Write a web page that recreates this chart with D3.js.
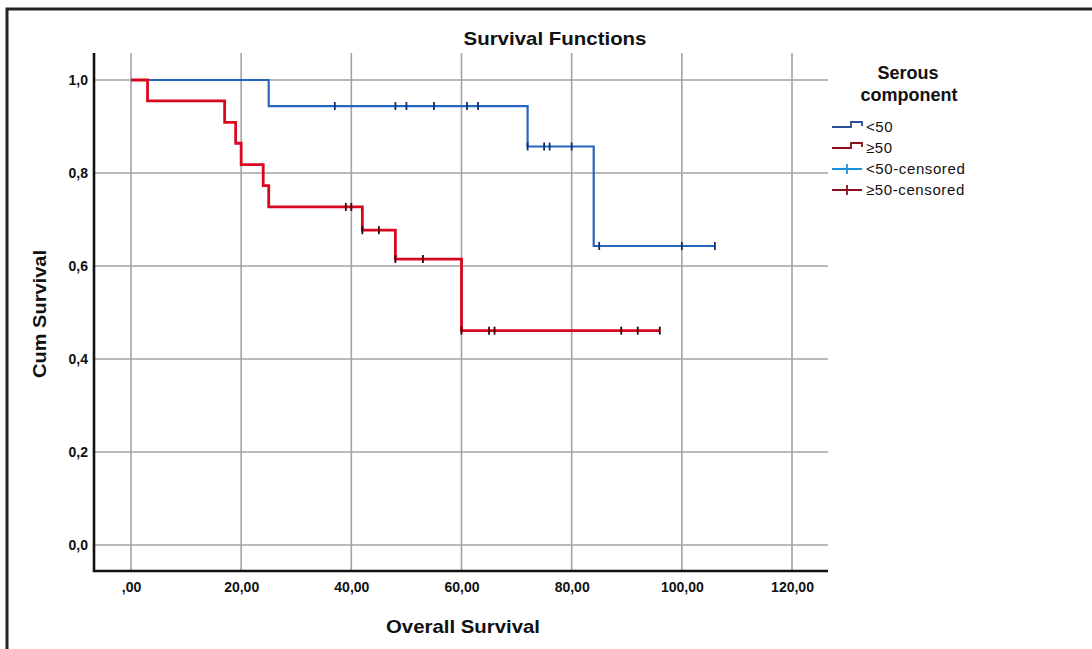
<!DOCTYPE html>
<html lang="en">
<head>
  <meta charset="UTF-8">
  <title>Survival Functions</title>
  <script src="https://d3js.org/d3.v7.min.js"></script>
  <style>
    body {
      margin: 0;
      padding: 0;
      background: #fff;
      font-family: "Liberation Sans", Arial, sans-serif;
    }
    svg text { fill: #111; }
  </style>
</head>
<body>
  <div id="chart"></div>

  <script>
    // Kaplan-Meier steps (time, cumulative survival)
    const lowTimes = [0, 25, 72, 84, 106];
    const lowSurv = [1.0, 0.944, 0.857, 0.643, 0.643];
    const lowCensored = [37, 48, 50, 55, 61, 63, 72, 75, 76, 80, 85, 100, 106];

    const highTimes = [0, 3, 17, 19, 20, 24, 25, 42, 48, 60, 96];
    const highSurv = [1.0, 0.955, 0.909, 0.864, 0.818, 0.773, 0.727, 0.677, 0.615, 0.461, 0.461];
    const highCensored = [39, 40, 42, 45, 48, 53, 60, 65, 66, 89, 92, 96];

    const xTicks = [0, 20, 40, 60, 80, 100, 120];
    const xTickLabels = [",00", "20,00", "40,00", "60,00", "80,00", "100,00", "120,00"];
    const yTicks = [0, 0.2, 0.4, 0.6, 0.8, 1.0];
    const yTickLabels = ["0,0", "0,2", "0,4", "0,6", "0,8", "1,0"];

    const legendLabels = ["<50", "\u226550", "<50-censored", "\u226550-censored"];

    const W = 1092, H = 649;
    const plot = { left: 94, right: 828, top: 53, bottom: 571 };

    const blueLine = "#2766bd";
    const blueMark = "#0e2f6a";
    const redLine = "#d8081f";
    const redMark = "#3a0008";

    const svg = d3.select("#chart")
      .append("svg")
      .attr("width", W)
      .attr("height", H);

    // outer frame (only top and left edges are inside the picture)
    svg.append("rect")
      .attr("x", 7).attr("y", 9)
      .attr("width", W + 20).attr("height", H + 20)
      .attr("fill", "none")
      .attr("stroke", "#232323")
      .attr("stroke-width", 3);

    const x = d3.scaleLinear().domain([0, 120]).range([131, 792]);
    const y = d3.scaleLinear().domain([0, 1]).range([545, 80]);

    // grid
    svg.append("g")
      .selectAll("line")
      .data(xTicks)
      .join("line")
      .attr("x1", d => x(d)).attr("x2", d => x(d))
      .attr("y1", plot.top).attr("y2", plot.bottom)
      .attr("stroke", "#a3a3a3")
      .attr("stroke-width", 1.6);

    svg.append("g")
      .selectAll("line")
      .data(yTicks)
      .join("line")
      .attr("x1", plot.left).attr("x2", plot.right)
      .attr("y1", d => y(d)).attr("y2", d => y(d))
      .attr("stroke", "#a3a3a3")
      .attr("stroke-width", 1.6);

    // axes
    const xAxis = svg.append("g")
      .attr("transform", `translate(0,${plot.bottom})`)
      .call(d3.axisBottom(x).tickValues(xTicks).tickSize(0).tickPadding(11)
        .tickFormat((d, i) => xTickLabels[i]));
    xAxis.select(".domain").remove();
    xAxis.selectAll("text")
      .attr("font-family", "Liberation Sans, Arial, sans-serif")
      .attr("font-size", 14)
      .attr("font-weight", "bold")
      .attr("fill", "#111");

    const yAxis = svg.append("g")
      .attr("transform", `translate(${plot.left},0)`)
      .call(d3.axisLeft(y).tickValues(yTicks).tickSize(0).tickPadding(6)
        .tickFormat((d, i) => yTickLabels[i]));
    yAxis.select(".domain").remove();
    yAxis.selectAll("text")
      .attr("font-family", "Liberation Sans, Arial, sans-serif")
      .attr("font-size", 14)
      .attr("font-weight", "bold")
      .attr("fill", "#111");

    svg.append("path")
      .attr("d", `M${plot.left},${plot.top}V${plot.bottom}H${plot.right}`)
      .attr("fill", "none")
      .attr("stroke", "#111")
      .attr("stroke-width", 2.6);

    // survival curves
    const step = d3.line()
      .x(d => x(d[0]))
      .y(d => y(d[1]))
      .curve(d3.curveStepAfter);

    const survAt = (times, surv, t) => {
      let s = surv[0];
      times.forEach((tt, i) => { if (tt <= t) s = surv[i]; });
      return s;
    };

    const drawGroup = (times, surv, censored, lineColor, markColor, width) => {
      svg.append("path")
        .datum(times.map((t, i) => [t, surv[i]]))
        .attr("fill", "none")
        .attr("stroke", lineColor)
        .attr("stroke-width", width)
        .attr("d", step);

      svg.append("g")
        .selectAll("line")
        .data(censored)
        .join("line")
        .attr("x1", d => x(d)).attr("x2", d => x(d))
        .attr("y1", d => y(survAt(times, surv, d)) - 4)
        .attr("y2", d => y(survAt(times, surv, d)) + 4)
        .attr("stroke", markColor)
        .attr("stroke-width", 1.8);
    };

    drawGroup(lowTimes, lowSurv, lowCensored, blueLine, blueMark, 2.2);
    drawGroup(highTimes, highSurv, highCensored, redLine, redMark, 2.8);

    // titles
    svg.append("text")
      .attr("x", 555).attr("y", 45)
      .attr("text-anchor", "middle")
      .attr("font-size", 19)
      .attr("font-weight", "bold")
      .attr("textLength", 183)
      .attr("lengthAdjust", "spacingAndGlyphs")
      .text("Survival Functions");

    svg.append("text")
      .attr("x", 463).attr("y", 633)
      .attr("text-anchor", "middle")
      .attr("font-size", 19)
      .attr("font-weight", "bold")
      .attr("textLength", 154)
      .attr("lengthAdjust", "spacingAndGlyphs")
      .text("Overall Survival");

    svg.append("text")
      .attr("transform", "translate(46,314) rotate(-90)")
      .attr("text-anchor", "middle")
      .attr("font-size", 19)
      .attr("font-weight", "bold")
      .attr("textLength", 128)
      .attr("lengthAdjust", "spacingAndGlyphs")
      .text("Cum Survival");

    // legend
    const legend = svg.append("g");
    legend.append("text")
      .attr("x", 908).attr("y", 79)
      .attr("text-anchor", "middle")
      .attr("font-size", 18)
      .attr("font-weight", "bold")
      .text("Serous");
    legend.append("text")
      .attr("x", 909).attr("y", 101)
      .attr("text-anchor", "middle")
      .attr("font-size", 18)
      .attr("font-weight", "bold")
      .text("component");

    const legendColors = ["#2c4f99", "#8c0f1c", "#1f8fe0", "#8c0f1c"];
    const legendY = d3.scalePoint().domain(legendLabels).range([127, 190]);

    legendLabels.forEach((lab, i) => {
      const ly = legendY(lab);
      const g = legend.append("g");
      if (i < 2) {
        g.append("path")
          .attr("d", `M832,${ly}H851V${ly - 5}H862V${ly - 1}`)
          .attr("fill", "none")
          .attr("stroke", legendColors[i])
          .attr("stroke-width", 1.8);
      } else {
        g.append("path")
          .attr("d", `M832,${ly}H862M847,${ly - 5}V${ly + 5}`)
          .attr("fill", "none")
          .attr("stroke", legendColors[i])
          .attr("stroke-width", 1.8);
      }
      g.append("text")
        .attr("x", 866).attr("y", ly + 5)
        .attr("font-size", 15)
        .attr("letter-spacing", 0.6)
        .text(lab);
    });
  </script>
</body>
</html>
